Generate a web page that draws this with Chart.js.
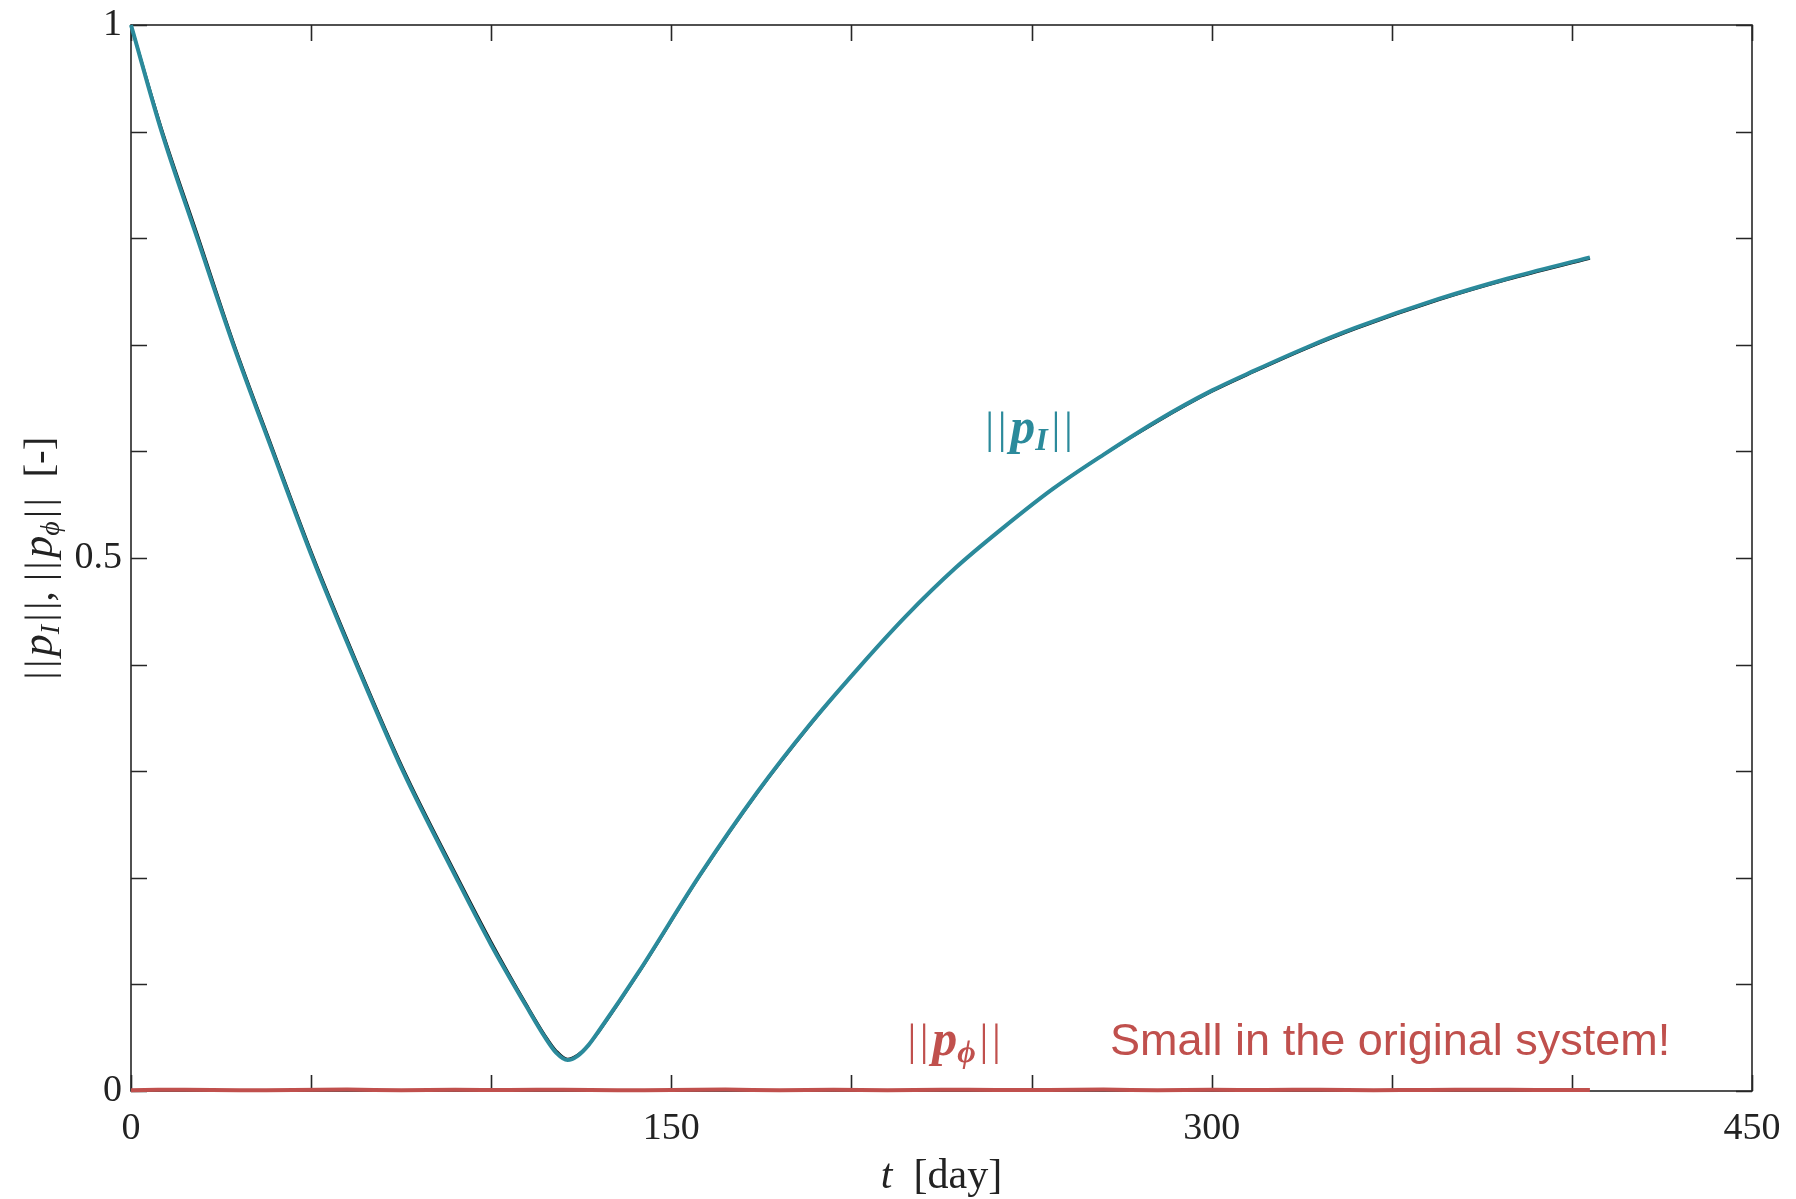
<!DOCTYPE html>
<html>
<head>
<meta charset="utf-8">
<script src="https://cdn.jsdelivr.net/npm/chart.js@4"></script>
<style>
  html, body { margin: 0; padding: 0; background: #fff; }
  #wrap { width: 1796px; height: 1199px; }
</style>
</head>
<body>
<div id="wrap"><canvas id="myChart" width="1796" height="1199"></canvas></div>
<script>
// Dữ liệu
const tDays = [0, 8.5, 18.4, 28.4, 39.3, 50.4, 62.6, 75.5, 90.3, 100, 110, 115, 118, 121.2, 124, 127, 130, 141,
               158, 174, 188, 202, 215, 229, 242, 256, 270, 285, 300, 312, 326, 340, 363, 382, 405];
const pINorm = [1, 0.9, 0.8, 0.7, 0.6, 0.5, 0.4, 0.3, 0.2, 0.137, 0.078, 0.050, 0.036, 0.029, 0.033, 0.043, 0.057, 0.112,
                0.203, 0.281, 0.342, 0.397, 0.445, 0.491, 0.528, 0.565, 0.597, 0.629, 0.657, 0.676, 0.697, 0.716, 0.743, 0.762, 0.782];
// đường tham chiếu màu đen nằm bên dưới
const refNorm = [1, 0.903, 0.804, 0.703, 0.603, 0.503, 0.403, 0.303, 0.203, 0.140, 0.080, 0.052, 0.038, 0.030, 0.034, 0.043, 0.056, 0.111,
                 0.202, 0.280, 0.341, 0.397, 0.445, 0.491, 0.528, 0.565, 0.597, 0.628, 0.656, 0.675, 0.696, 0.715, 0.742, 0.761, 0.781];
const tPhi = [0, 15, 30, 45, 60, 75, 90, 105, 120, 135, 150, 165, 180, 195, 210, 225, 240, 255, 270, 285,
              300, 315, 330, 345, 360, 375, 390, 405];
const pPhiNorm = [0.0008, 0.0012, 0.0006, 0.0010, 0.0013, 0.0007, 0.0011, 0.0009, 0.0012, 0.0006, 0.0010, 0.0013, 0.0008, 0.0011,
                  0.0007, 0.0012, 0.0009, 0.0010, 0.0013, 0.0007, 0.0011, 0.0009, 0.0012, 0.0008, 0.0010, 0.0012, 0.0009, 0.0010];
const xTickLabels = [0, 150, 300, 450];
const yTickLabels = [0, 0.5, 1];

const TEAL = '#2b8a9b';
const RED = '#c0504d';
const AXIS = '#262626';
const SERIF = '"Liberation Serif", "DejaVu Serif", serif';
const BARS = '|\u200A|';

function toPoints(xs, ys) {
    return xs.map((x, i) => ({ x: x, y: ys[i] }));
}

// Vẽ chữ nhiều đoạn (in nghiêng, chỉ số dưới)
function drawRich(ctx, parts, x, y, align) {
    let w = 0;
    parts.forEach(p => { ctx.font = p.font; w += ctx.measureText(p.text).width; });
    let cx = align === 'center' ? x - w / 2 : x;
    parts.forEach(p => {
        ctx.font = p.font;
        ctx.fillStyle = p.color;
        ctx.fillText(p.text, cx, y + (p.dy || 0));
        cx += ctx.measureText(p.text).width;
    });
}

function normLabel(color, sub, x, y, ctx) {
    const bar = '44px ' + SERIF;
    drawRich(ctx, [
        { text: BARS + '\u200A', font: bar, color: color },
        { text: 'p', font: 'bold italic 50px ' + SERIF, color: color },
        { text: sub, font: 'bold italic 32px ' + SERIF, color: color, dy: 7 },
        { text: '\u200A' + BARS, font: bar, color: color }
    ], x, y, 'center');
}

const framePlugin = {
    id: 'frame',
    beforeDatasetsDraw(chart) {
        const { ctx, chartArea: a, scales: { x, y } } = chart;
        ctx.save();
        ctx.strokeStyle = AXIS;
        ctx.lineWidth = 1.6;
        ctx.strokeRect(a.left, a.top, a.right - a.left, a.bottom - a.top);
        ctx.beginPath();
        x.ticks.forEach(tk => {
            const px = Math.round(x.getPixelForValue(tk.value)) + 0.5;
            ctx.moveTo(px, a.bottom); ctx.lineTo(px, a.bottom - 16);
            ctx.moveTo(px, a.top); ctx.lineTo(px, a.top + 16);
        });
        y.ticks.forEach(tk => {
            const py = Math.round(y.getPixelForValue(tk.value)) + 0.5;
            ctx.moveTo(a.left, py); ctx.lineTo(a.left + 16, py);
            ctx.moveTo(a.right, py); ctx.lineTo(a.right - 16, py);
        });
        ctx.stroke();
        ctx.restore();
    },
    afterDraw(chart) {
        const { ctx, chartArea: a, scales: { x, y } } = chart;
        ctx.save();
        ctx.textBaseline = 'alphabetic';

        // nhãn trục x
        const f42 = '42px ' + SERIF, i42 = 'italic 42px ' + SERIF;
        drawRich(ctx, [
            { text: 't', font: i42, color: '#222' },
            { text: '  [day]', font: f42, color: '#222' }
        ], (a.left + a.right) / 2, 1188, 'center');

        // nhãn trục y (xoay)
        ctx.save();
        ctx.translate(52, (a.top + a.bottom) / 2);
        ctx.rotate(-Math.PI / 2);
        const f41 = '41px ' + SERIF, i44 = 'italic 44px ' + SERIF, i28 = 'italic 28px ' + SERIF;
        drawRich(ctx, [
            { text: BARS + '\u200A', font: f41, color: '#222' },
            { text: 'p', font: i44, color: '#222' },
            { text: 'I', font: i28, color: '#222', dy: 7 },
            { text: '\u200A' + BARS + ', ' + BARS + '\u200A', font: f41, color: '#222' },
            { text: 'p', font: i44, color: '#222' },
            { text: '\u03d5', font: i28, color: '#222', dy: 7 },
            { text: '\u200A' + BARS + '  [-]', font: f41, color: '#222' }
        ], 0, 0, 'center');
        ctx.restore();

        // chú thích trên biểu đồ
        normLabel(TEAL, 'I', x.getPixelForValue(249.3), y.getPixelForValue(0.608), ctx);
        normLabel(RED, '\u03d5', x.getPixelForValue(228.5), y.getPixelForValue(0.034), ctx);

        drawRich(ctx, [
            { text: 'Small in the original system!', font: '45px "Liberation Sans", Arial, sans-serif', color: RED }
        ], x.getPixelForValue(271.8), y.getPixelForValue(0.034), 'left');

        ctx.restore();
    }
};

const ctx = document.getElementById('myChart').getContext('2d');
new Chart(ctx, {
    type: 'line',
    data: {
        datasets: [
            {
                label: 'p_phi',
                data: toPoints(tPhi, pPhiNorm),
                borderColor: RED,
                borderWidth: 4,
                pointRadius: 0,
                tension: 0.3,
                clip: false,
                order: 0
            },
            {
                label: 'p_I',
                data: toPoints(tDays, pINorm),
                borderColor: TEAL,
                borderWidth: 4,
                pointRadius: 0,
                cubicInterpolationMode: 'monotone',
                clip: false,
                order: 1
            },
            {
                label: 'ref',
                data: toPoints(tDays, refNorm),
                borderColor: '#111',
                borderWidth: 2.5,
                pointRadius: 0,
                cubicInterpolationMode: 'monotone',
                clip: false,
                order: 2
            }
        ]
    },
    options: {
        responsive: false,
        devicePixelRatio: 1,
        animation: false,
        layout: { padding: { top: 25, right: 44, left: 0, bottom: 0 } },
        plugins: { legend: { display: false }, tooltip: { enabled: false } },
        scales: {
            x: {
                type: 'linear',
                min: 0,
                max: 450,
                grid: { display: false, drawTicks: false },
                border: { display: false },
                afterFit: s => { s.height = 108; },
                ticks: {
                    stepSize: 50,
                    autoSkip: false,
                    maxRotation: 0,
                    padding: 15,
                    color: '#222',
                    font: { family: SERIF, size: 38 },
                    callback: v => xTickLabels.includes(v) ? String(v) : ''
                }
            },
            y: {
                min: 0,
                max: 1,
                grid: { display: false, drawTicks: false },
                border: { display: false },
                afterFit: s => { s.width = 131; s.paddingTop = 0; s.paddingBottom = 0; },
                ticks: {
                    stepSize: 0.1,
                    autoSkip: false,
                    padding: 9,
                    color: '#222',
                    font: { family: SERIF, size: 38, lineHeight: 1 },
                    callback: v => {
                        const hit = yTickLabels.find(t => Math.abs(t - v) < 1e-9);
                        return hit !== undefined ? String(hit) : '';
                    }
                }
            }
        }
    },
    plugins: [framePlugin]
});
</script>
</body>
</html>
